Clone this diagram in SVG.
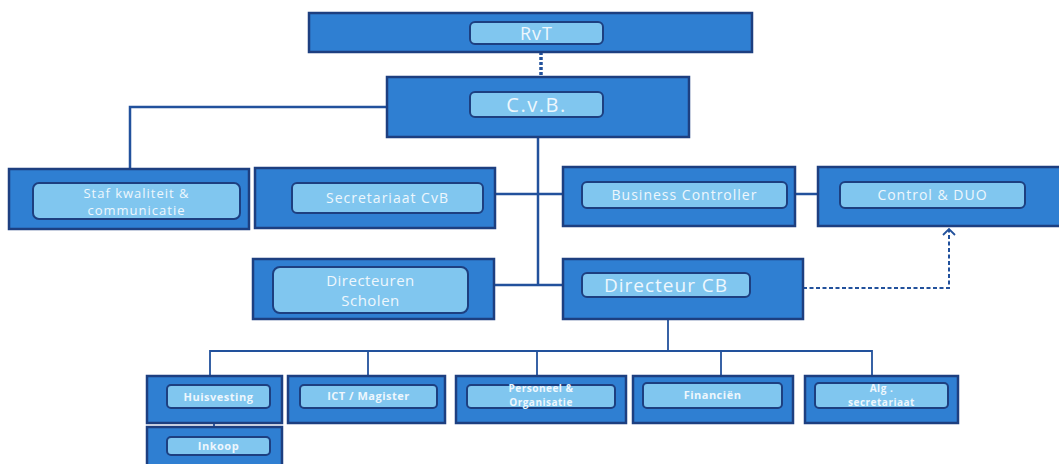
<svg xmlns="http://www.w3.org/2000/svg" width="1059" height="464" viewBox="0 0 1059 464">
<defs>
<style>
.o{fill:#2f7fd2;stroke:#1d3f80;stroke-width:2.5}
.i{fill:#80c6ef;stroke:#1d3f80;stroke-width:2}
.t{fill:#eef7fd;font-family:"Open Sans","DejaVu Sans",sans-serif;text-anchor:middle}
.m{font-size:14px;letter-spacing:1px}
.b{font-size:11px;font-weight:bold;letter-spacing:0.5px}
.b2{font-size:10px;font-weight:bold;letter-spacing:0.5px}
.c{fill:none;stroke:#22519c;stroke-width:2.5}
.s{fill:none;stroke:#22519c;stroke-width:1.8}
</style>
<marker id="ah" viewBox="0 0 14 14" refX="9" refY="7" markerWidth="14" markerHeight="14" markerUnits="userSpaceOnUse" orient="auto">
<path d="M3,1 L9,7 L3,13" fill="none" stroke="#22519c" stroke-width="1.8"/>
</marker>
</defs>
<rect width="1059" height="464" fill="#ffffff"/>
<g id="connectors">
<line x1="541" y1="52" x2="541" y2="77" stroke="#22519c" stroke-width="3.5" stroke-dasharray="3,2"/>
<polyline class="c" points="387,107 130,107 130,169"/>
<line class="c" x1="538" y1="137" x2="538" y2="285"/>
<line class="c" x1="495" y1="194" x2="563" y2="194"/>
<line class="c" x1="795" y1="194" x2="818" y2="194"/>
<line class="c" x1="494" y1="285" x2="563" y2="285"/>
<line class="s" x1="668" y1="319" x2="668" y2="351"/>
<polyline class="s" points="210,376 210,351 872,351 872,376"/>
<line class="s" x1="368" y1="351" x2="368" y2="376"/>
<line class="s" x1="537" y1="351" x2="537" y2="376"/>
<line class="s" x1="721" y1="351" x2="721" y2="376"/>
<line class="s" x1="214" y1="423" x2="214" y2="427"/>
<polyline points="803,288 949,288 949,229" fill="none" stroke="#22519c" stroke-width="2" stroke-dasharray="4,2.5" marker-end="url(#ah)"/>
</g>
<g id="rvt">
<rect class="o" x="309" y="13" width="443" height="39"/>
<rect class="i" x="470" y="22" width="133" height="22" rx="5"/>
<text class="t" x="536.5" y="40" font-size="18" letter-spacing="1">RvT</text>
</g>
<g id="cvb">
<rect class="o" x="387" y="77" width="302" height="60"/>
<rect class="i" x="470" y="92" width="133" height="25" rx="5"/>
<text class="t" x="536.5" y="112" font-size="20" letter-spacing="1.5">C.v.B.</text>
</g>
<g id="staf">
<rect class="o" x="9" y="169" width="240" height="60"/>
<rect class="i" x="33" y="183" width="207" height="36" rx="6"/>
<text class="t" x="136.5" y="198" font-size="13" letter-spacing="1">Staf kwaliteit &amp;</text>
<text class="t" x="136.5" y="215" font-size="13" letter-spacing="1">communicatie</text>
</g>
<g id="secretariaat">
<rect class="o" x="255" y="168" width="240" height="60"/>
<rect class="i" x="292" y="183" width="191" height="30" rx="5"/>
<text class="t m" x="387.5" y="203">Secretariaat CvB</text>
</g>
<g id="business">
<rect class="o" x="563" y="167" width="232" height="59"/>
<rect class="i" x="582" y="182" width="205" height="26" rx="5"/>
<text class="t m" x="684.5" y="200">Business Controller</text>
</g>
<g id="control">
<rect class="o" x="818" y="167" width="243" height="59"/>
<rect class="i" x="840" y="182" width="185" height="26" rx="5"/>
<text class="t m" x="932.5" y="200">Control &amp; DUO</text>
</g>
<g id="directeuren">
<rect class="o" x="253" y="259" width="241" height="60"/>
<rect class="i" x="273" y="267" width="195" height="46" rx="7"/>
<text class="t" x="370.5" y="286" font-size="15" letter-spacing="0.5">Directeuren</text>
<text class="t" x="370.5" y="306" font-size="15" letter-spacing="0.5">Scholen</text>
</g>
<g id="directeurcb">
<rect class="o" x="563" y="259" width="240" height="60"/>
<rect class="i" x="582" y="273" width="168" height="24" rx="5"/>
<text class="t" x="666" y="292" font-size="19" letter-spacing="1">Directeur CB</text>
</g>
<g id="huisvesting">
<rect class="o" x="147" y="376" width="135" height="47"/>
<rect class="i" x="167" y="385" width="103" height="23" rx="4"/>
<text class="t b" x="218.5" y="401">Huisvesting</text>
</g>
<g id="inkoop">
<rect class="o" x="147" y="427" width="135" height="42"/>
<rect class="i" x="167" y="437" width="103" height="18" rx="4"/>
<text class="t b" x="218.5" y="450">Inkoop</text>
</g>
<g id="ict">
<rect class="o" x="288" y="376" width="157" height="47"/>
<rect class="i" x="300" y="385" width="137" height="23" rx="4"/>
<text class="t b" x="368.5" y="400">ICT / Magister</text>
</g>
<g id="personeel">
<rect class="o" x="456" y="376" width="170" height="47"/>
<rect class="i" x="467" y="385" width="148" height="23" rx="4"/>
<text class="t b2" x="541" y="392">Personeel &amp;</text>
<text class="t b2" x="541" y="406">Organisatie</text>
</g>
<g id="financien">
<rect class="o" x="633" y="376" width="160" height="47"/>
<rect class="i" x="643" y="383" width="139" height="25" rx="4"/>
<text class="t b" x="712.5" y="399">Financiën</text>
</g>
<g id="alg">
<rect class="o" x="805" y="376" width="153" height="47"/>
<rect class="i" x="815" y="383" width="133" height="25" rx="4"/>
<text class="t b2" x="881.5" y="392">Alg .</text>
<text class="t b2" x="881.5" y="406">secretariaat</text>
</g>
</svg>
